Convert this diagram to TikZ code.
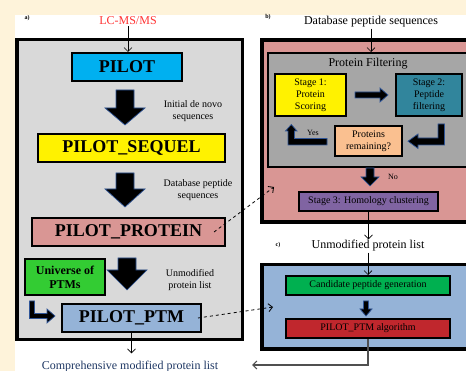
\documentclass[tikz,border=0pt]{standalone}
\usepackage{fontspec}
\setmainfont{Liberation Serif}
\usetikzlibrary{arrows.meta}
\definecolor{cream}{HTML}{FEF3DA}
\definecolor{graya}{HTML}{D9D9D9}
\definecolor{grayb}{HTML}{A6A6A6}
\definecolor{pilotcyan}{HTML}{00B0F0}
\definecolor{pinkbox}{HTML}{D99694}
\definecolor{greenu}{HTML}{33CC33}
\definecolor{ptmblue}{HTML}{95B3D7}
\definecolor{tealbox}{HTML}{31859C}
\definecolor{peach}{HTML}{FAC090}
\definecolor{purplebox}{HTML}{8064A2}
\definecolor{greenc}{HTML}{00B050}
\definecolor{redc}{HTML}{C0272D}
\definecolor{navytext}{HTML}{1F3864}
\definecolor{lcred}{HTML}{FF3333}
\definecolor{arrowblue}{HTML}{2F5597}
\definecolor{outgray}{HTML}{505050}
\begin{document}
\begin{tikzpicture}[x=1pt,y=-1pt,
  box/.style={draw=black, line width=2pt, inner sep=0pt, align=center},
  big/.style={box, font=\fontsize{18}{20}\selectfont\bfseries, minimum height=28pt},
  ten/.style={font=\fontsize{10}{12}\selectfont},
  small/.style={ten, align=center, inner sep=0pt},
  lab/.style={font=\fontsize{12}{14}\selectfont, inner sep=1pt},
  tiny/.style={font=\fontsize{8}{9}\selectfont, inner sep=0pt},
  thin/.style={-{Straight Barb[length=4pt,width=8pt]}, line width=0.6pt},
  dasharrow/.style={-{Straight Barb[length=4pt,width=8pt]}, line width=0.8pt, dashed},
  blk/.style={fill=black, draw=arrowblue, line width=0.7pt, line join=miter},
  panel/.style={draw=black, line width=3.5pt, inner sep=0pt},
  tag/.style={font=\fontsize{6}{7}\selectfont\bfseries, inner sep=0pt}
]
\useasboundingbox (0,0) rectangle (466,371);
\clip (0,0) rectangle (466,371);
\fill[cream] (0,0) rectangle (466,371);
\fill[white] (15,15) rectangle (466,371);

% ---------- panel a ----------
\node[tag] (taga) at (27,18) {a)};
\node[panel, fill=graya, minimum width=225.5pt, minimum height=300pt] (pa) at (129.75,189.5) {};
\node[lab, text=lcred] (lcms) at (128,21) {LC-MS/MS};
\node[big, fill=pilotcyan, minimum width=110pt] (pilot) at (127,67) {PILOT};
\node[big, fill=yellow, minimum width=187pt] (sequel) at (131.5,148) {PILOT\_SEQUEL};
\node[big, fill=pinkbox, minimum width=193pt] (protein) at (128.5,232) {PILOT\_PROTEIN};
\node[box, fill=greenu, minimum width=80pt, minimum height=36pt,
      font=\fontsize{12}{14}\selectfont\bfseries] (univ) at (65,277) {Universe of\\PTMs};
\node[big, fill=ptmblue, minimum width=139pt] (ptm) at (131.5,318) {PILOT\_PTM};
\node[small] (t1) at (193,111) {Initial de novo\\sequences};
\node[small] (t2) at (198,190) {Database peptide\\sequences};
\node[small] (t3) at (190,280) {Unmodified\\protein list};
\node[lab, text=navytext] (comp) at (130,367) {Comprehensive modified protein list};

\draw[thin] (lcms.south) -- (lcms.south |- pilot.north);
\draw[thin] (ptm.south) -- ([yshift=7pt]ptm.south |- comp.north);

% block arrows panel a
\draw[blk] (116,90) -- (134,90) -- (134,108) -- (145,108) -- (125,125) -- (105,108) -- (116,108) -- cycle;
\draw[blk] (116,173) -- (134,173) -- (134,189) -- (145,189) -- (125,207) -- (105,189) -- (116,189) -- cycle;
\draw[blk] (118,258) -- (136,258) -- (136,270) -- (147,270) -- (127,290) -- (107,270) -- (118,270) -- cycle;
\draw[blk] (29.5,301) -- (34.5,301) -- (34.5,313.5) -- (47,313.5) -- (47,309) -- (55,316) -- (47,323) -- (47,318.5) -- (29.5,318.5) -- cycle;

% ---------- panel b ----------
\node[tag] (tagb) at (268,17) {b)};
\node[lab] (dbseq) at (371,22) {Database peptide sequences};
\node[panel, fill=pinkbox, minimum width=218pt, minimum height=182pt] (pb) at (371,131) {};
\node[draw=black, line width=2pt, fill=grayb, inner sep=0pt, minimum width=207pt, minimum height=114pt] (filt) at (371.5,110) {};
\node[lab] (pftitle) at (368,64) {Protein Filtering};
\node[box, ten, fill=yellow, minimum width=71pt, minimum height=42pt] (s1) at (310.5,95) {Stage 1:\\Protein\\Scoring};
\node[box, ten, fill=tealbox, minimum width=66pt, minimum height=42pt] (s2) at (429,95) {Stage 2:\\Peptide\\filtering};
\node[box, ten, fill=peach, minimum width=67pt, minimum height=30pt] (rem) at (368.5,141) {Proteins\\remaining?};
\node[box, ten, fill=purplebox, minimum width=139pt, minimum height=19pt] (s3) at (368.5,201.5) {Stage 3: Homology clustering};
\node[tiny] (yes) at (313,133) {Yes};
\node[tiny] (no) at (393,177) {No};

\draw[thin] (dbseq.south) -- (dbseq.south |- filt.north);

\draw[blk] (355,92) -- (380,92) -- (380,88) -- (388,95) -- (380,102) -- (380,98) -- (355,98) -- cycle;
\draw[blk] (438,124) -- (444.5,124) -- (444.5,145) -- (418,145) -- (418,148.5) -- (408,141.2) -- (418,134) -- (418,138) -- (438,138) -- cycle;
\draw[blk] (327,138.5) -- (327,145) -- (288,145) -- (288,131) -- (285.5,131) -- (291.3,124.5) -- (297,131) -- (294.5,131) -- (294.5,138.5) -- cycle;
\draw[blk] (366,168) -- (374,168) -- (374,177) -- (379,177) -- (370,186) -- (361,177) -- (366,177) -- cycle;

% ---------- panel c ----------
\node[tag] (tagc) at (278,245) {c)};
\node[lab] (unmod) at (368,246) {Unmodified protein list};
\draw[thin] (s3.south) -- (s3.south |- unmod.north);
\node[panel, fill=ptmblue, minimum width=218pt, minimum height=84.5pt] (pc) at (371,306.75) {};
\node[box, ten, fill=greenc, minimum width=164pt, minimum height=19pt] (cand) at (368,285.5) {Candidate peptide generation};
\node[box, ten, fill=redc, minimum width=164pt, minimum height=19pt] (alg) at (368,328.5) {PILOT\_PTM algorithm};
\draw[thin] (unmod.south) -- (unmod.south |- cand.north);
\draw[blk] (363.5,301) -- (368.5,301) -- (368.5,309) -- (372,309) -- (366,316) -- (360,309) -- (363.5,309) -- cycle;
\coordinate (outend) at (252,365);
\draw[thin, draw=outgray, line width=1.2pt] (alg.south) |- (outend);

% ---------- dashed links ----------
\coordinate (d1e) at (274,187);
\coordinate (d2e) at (273,307);
\draw[dasharrow] ([xshift=-12pt]protein.east) -- (d1e);
\draw[dasharrow] ([xshift=-4pt]ptm.east) -- (d2e);
\end{tikzpicture}
\end{document}
